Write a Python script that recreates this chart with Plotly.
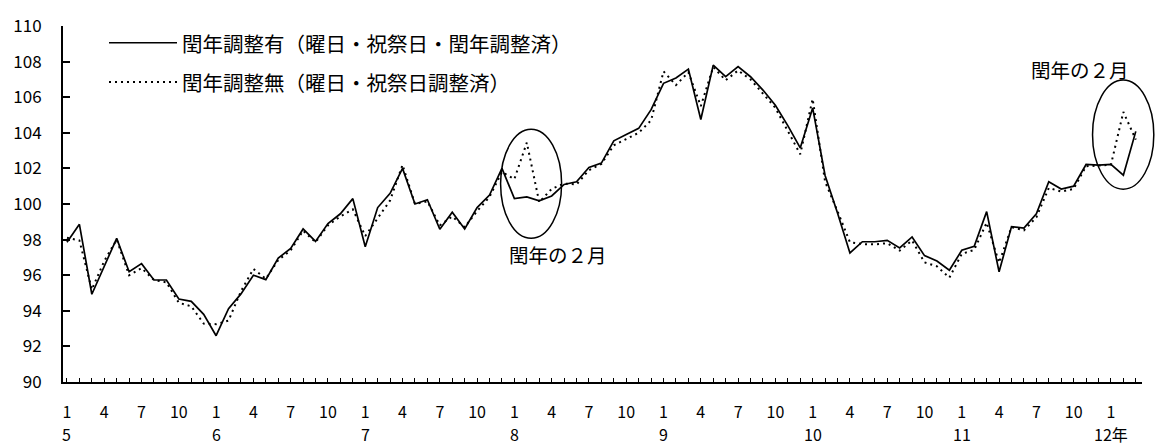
import plotly.graph_objects as go

FONT = "Noto Sans CJK JP"

# 月次指数（2005年1月〜2012年3月）
adjusted = [  # 閏年調整有（曜日・祝祭日・閏年調整済）
    97.85, 98.86, 94.93, 96.50, 98.07, 96.19, 96.65, 95.73, 95.73, 94.66, 94.53, 93.80,
    92.60, 94.12, 94.95, 96.00, 95.75, 96.96, 97.50, 98.60, 97.90, 98.90, 99.45, 100.30,
    97.60, 99.80, 100.60, 102.00, 100.00, 100.24, 98.58, 99.54, 98.60, 99.80, 100.50, 102.00,
    100.30, 100.40, 100.18, 100.45, 101.10, 101.25, 102.05, 102.30, 103.55, 103.90, 104.25, 105.30,
    106.78, 107.08, 107.58, 104.75, 107.80, 107.15, 107.72, 107.15, 106.40, 105.55, 104.40, 103.15,
    105.40, 101.60, 99.50, 97.25, 97.88, 97.88, 97.96, 97.53, 98.15, 97.10, 96.80, 96.28,
    97.40, 97.62, 99.57, 96.19, 98.73, 98.65, 99.45, 101.25, 100.84, 101.00, 102.22, 102.18,
    102.22, 101.62, 104.08,
]
unadjusted = [  # 閏年調整無（曜日・祝祭日調整済）
    98.10, 97.95, 95.20, 96.80, 98.00, 96.00, 96.40, 95.73, 95.60, 94.45, 94.25, 93.28,
    93.25, 93.45, 95.10, 96.35, 95.80, 96.85, 97.40, 98.50, 97.85, 98.80, 99.30, 99.70,
    98.20, 99.20, 100.20, 102.20, 100.00, 100.15, 98.80, 99.30, 98.70, 99.60, 100.40, 101.80,
    101.40, 103.45, 100.10, 100.85, 101.15, 101.10, 101.90, 102.25, 103.30, 103.65, 104.00, 104.70,
    107.45, 106.68, 107.40, 105.50, 107.70, 106.95, 107.50, 107.00, 106.20, 105.40, 104.10, 102.80,
    105.90, 101.25, 99.60, 97.85, 97.75, 97.73, 97.80, 97.38, 97.95, 96.72, 96.50, 95.86,
    97.20, 97.42, 98.95, 96.70, 98.70, 98.52, 99.25, 100.90, 100.70, 100.85, 102.12, 102.15,
    102.20, 105.17, 103.62,
]

labeled_months = [1, 4, 7, 10]
year_labels = ["5", "6", "7", "8", "9", "10", "11", "12年"]
legend_names = ["閏年調整有（曜日・祝祭日・閏年調整済）", "閏年調整無（曜日・祝祭日調整済）"]
note_text = "閏年の２月"

x = list(range(len(adjusted)))
month_of = [i % 12 + 1 for i in x]
tick_text = [str(m) if m in labeled_months else "" for m in month_of]

X_RANGE = [-0.32, 86.5]
Y_RANGE = [90, 110]

# page geometry
W, H = 1157, 447
ML, MR, MT, MB = 63, 15, 20, 65
PW, PH = W - ML - MR, H - MT - MB

DOT = "2px,4px"


def xp(i):
    return (i - X_RANGE[0]) / (X_RANGE[1] - X_RANGE[0])


def yp(v):
    return (v - Y_RANGE[0]) / (Y_RANGE[1] - Y_RANGE[0])


def px_x(p):
    return (p - ML) / PW


def px_y(p):
    return (H - MB - p) / PH


fig = go.Figure()
fig.add_trace(go.Scatter(x=x, y=adjusted, mode="lines",
                         line=dict(color="black", width=1.7), showlegend=False))
fig.add_trace(go.Scatter(x=x, y=unadjusted, mode="lines",
                         line=dict(color="black", width=2, dash=DOT), showlegend=False))

shapes = []
annotations = []

# legend drawn by hand: long line samples with text
for row, (name, dash) in enumerate(zip(legend_names, ["solid", DOT])):
    yy = px_y(37 + row * 40)
    shapes.append(dict(type="line", xref="paper", yref="paper",
                       x0=px_x(109), x1=px_x(177), y0=yy, y1=yy,
                       line=dict(color="black", width=1.6 if dash == "solid" else 2, dash=dash)))
    annotations.append(dict(xref="paper", yref="paper", x=px_x(180), y=yy,
                            xanchor="left", yanchor="middle", showarrow=False,
                            text=name, font=dict(family=FONT, size=20.5, color="black")))

# ellipses around the leap-year Februaries
for (i0, i1, v0, v1) in [(34.89, 39.8, 98.07, 104.2), (82.52, 87.45, 100.83, 106.96)]:
    shapes.append(dict(type="circle", xref="paper", yref="paper",
                       x0=xp(i0), x1=xp(i1), y0=yp(v0), y1=yp(v1),
                       line=dict(color="black", width=1.5)))

annotations.append(dict(x=39.5, y=97.18, xref="x", yref="y", text=note_text, showarrow=False,
                        font=dict(family=FONT, size=19.5, color="black")))
annotations.append(dict(x=81.5, y=107.57, xref="x", yref="y", text=note_text, showarrow=False,
                        font=dict(family=FONT, size=19.5, color="black")))

# year labels under January ticks
for k, lab in enumerate(year_labels):
    annotations.append(dict(x=12 * k, y=px_y(435), xref="x", yref="paper", text=lab,
                            showarrow=False, xanchor="center", yanchor="middle",
                            font=dict(family=FONT, size=16, color="black")))

fig.update_layout(
    width=W, height=H,
    margin=dict(l=ML, r=MR, t=MT, b=MB),
    paper_bgcolor="white", plot_bgcolor="white",
    font=dict(family=FONT, size=16, color="black"),
    shapes=shapes, annotations=annotations,
    xaxis=dict(range=X_RANGE, tickmode="array", tickvals=x, ticktext=tick_text,
               ticks="inside", ticklen=4, tickwidth=1.3, tickcolor="black",
               showline=True, linecolor="black", linewidth=2,
               showgrid=False, zeroline=False, ticklabelstandoff=15,
               tickfont=dict(family=FONT, size=16, color="black")),
    yaxis=dict(range=Y_RANGE, dtick=2, tick0=90,
               ticks="inside", ticklen=7, tickwidth=1.5, tickcolor="black",
               showline=True, linecolor="black", linewidth=2,
               showgrid=False, zeroline=False, ticklabelstandoff=16,
               tickfont=dict(family=FONT, size=17, color="black")),
)

fig.write_html("out.html")
